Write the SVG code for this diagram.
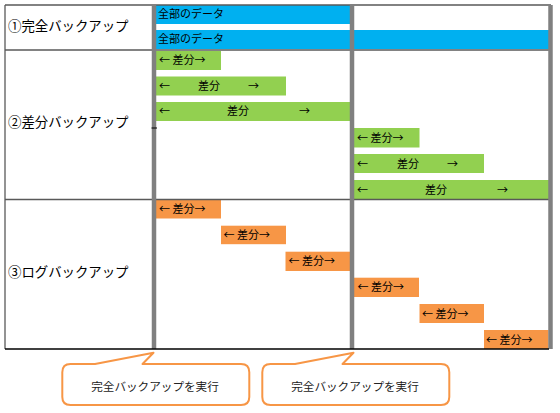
<svg xmlns="http://www.w3.org/2000/svg" width="560" height="413" viewBox="0 0 560 413">
<style>
text{font-family:"Noto Sans CJK JP","Noto Sans",sans-serif;fill:#000}
.lbl{font-size:13.4px}
.bt{font-size:11px}
.ct{font-size:11.6px;text-anchor:middle;fill:#222}
.blue{fill:#00B0F0}
.green{fill:#92D050}
.orange{fill:#F79646}
.vg{stroke:#808080;stroke-width:4.5}
.grid{stroke:#595959;stroke-width:1.3;fill:none}
.call{fill:#fff;stroke:#F79646;stroke-width:2;stroke-linejoin:round}
</style>
<rect width="560" height="413" fill="#fff"/>
<g id="row-full">
<rect class="blue" x="154" y="5" width="196" height="19"/>
<text class="bt" x="158" y="18">全部のデータ</text>
<rect class="blue" x="154" y="30" width="395" height="19"/>
<text class="bt" x="158" y="43">全部のデータ</text>
<text class="lbl" x="8" y="31">①完全バックアップ</text>
</g>
<g id="row-diff">
<rect class="green" x="154" y="51" width="67" height="19"/>
<text class="bt" x="159" y="64">← 差分→</text>
<rect class="green" x="154" y="76.5" width="132" height="19"/>
<text class="bt" y="89.5"><tspan x="159">←</tspan><tspan x="198">差分</tspan><tspan x="248">→</tspan></text>
<rect class="green" x="154" y="102" width="196" height="19"/>
<text class="bt" y="115"><tspan x="159">←</tspan><tspan x="227">差分</tspan><tspan x="299">→</tspan></text>
<rect class="green" x="352" y="128" width="67.5" height="19.5"/>
<text class="bt" x="357" y="141.5">← 差分→</text>
<rect class="green" x="352" y="154" width="132" height="19"/>
<text class="bt" y="167.5"><tspan x="357">←</tspan><tspan x="397">差分</tspan><tspan x="447">→</tspan></text>
<rect class="green" x="352" y="180" width="197" height="19.5"/>
<text class="bt" y="193.5"><tspan x="357">←</tspan><tspan x="425">差分</tspan><tspan x="497">→</tspan></text>
<text class="lbl" x="8" y="127">②差分バックアップ</text>
</g>
<g id="row-log">
<rect class="orange" x="154" y="200" width="67" height="18.5"/>
<text class="bt" x="159" y="213">← 差分→</text>
<rect class="orange" x="221" y="225.7" width="65" height="18.5"/>
<text class="bt" x="223.5" y="239">← 差分→</text>
<rect class="orange" x="285.5" y="251.7" width="64.5" height="19.3"/>
<text class="bt" x="288.5" y="265">← 差分→</text>
<rect class="orange" x="352" y="277.7" width="67" height="19.3"/>
<text class="bt" x="357.5" y="291">← 差分→</text>
<rect class="orange" x="419.5" y="304" width="64.5" height="19"/>
<text class="bt" x="422" y="317.5">← 差分→</text>
<rect class="orange" x="484" y="330" width="64.5" height="19"/>
<text class="bt" x="486" y="343.5">← 差分→</text>
<text class="lbl" x="8" y="277">③ログバックアップ</text>
</g>
<g id="connectors">
<line class="grid" x1="5" y1="5" x2="551" y2="5" stroke="#7f7f7f"/>
<line class="grid" x1="5" y1="5" x2="5" y2="349"/>
<line class="grid" x1="5" y1="50" x2="551" y2="50" stroke="#404040"/>
<line class="grid" x1="5" y1="199.5" x2="551" y2="199.5" stroke="#404040"/>
<line class="vg" x1="154" y1="5" x2="154" y2="349"/>
<line class="vg" x1="352" y1="5" x2="352" y2="349"/>
<line class="vg" x1="550.5" y1="5" x2="550.5" y2="349"/>
<line x1="5" y1="349" x2="549" y2="349" stroke="#000" stroke-width="1.3"/>
<line x1="151.5" y1="128" x2="157" y2="128" stroke="#000" stroke-width="1"/>
</g>
<g id="callout-1">
<path class="call" d="M70.5,364 L95,364 L153.5,352.8 L142.5,364 L241,364 Q249.3,364 249.3,372.3 L249.3,397 Q249.3,405 241,405 L70.5,405 Q62.3,405 62.3,397 L62.3,372.3 Q62.3,364 70.5,364 Z"/>
<text class="ct" x="155" y="390.5">完全バックアップを実行</text>
</g>
<g id="callout-2">
<path class="call" d="M270.5,364 L295,364 L353.5,352.8 L342.5,364 L441,364 Q449.3,364 449.3,372.3 L449.3,397 Q449.3,405 441,405 L270.5,405 Q262.3,405 262.3,397 L262.3,372.3 Q262.3,364 270.5,364 Z"/>
<text class="ct" x="355" y="390.5">完全バックアップを実行</text>
</g>
</svg>
